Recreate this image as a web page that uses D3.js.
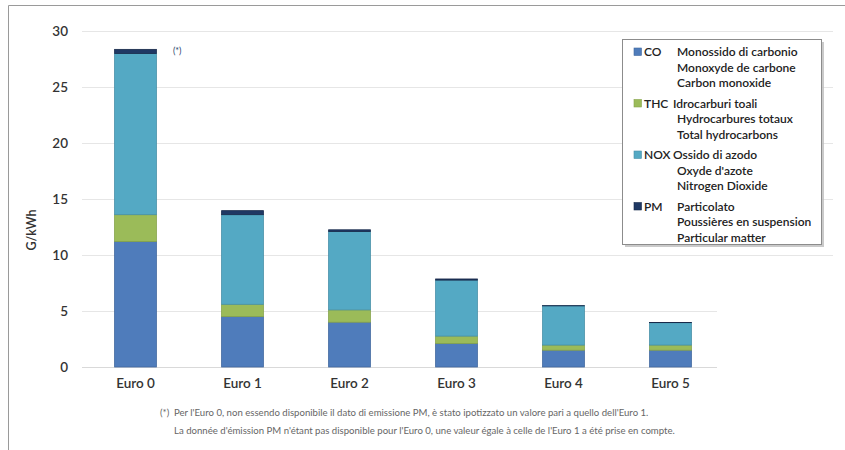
<!DOCTYPE html>
<html>
<head>
<meta charset="utf-8">
<script src="https://cdn.jsdelivr.net/npm/d3@7/dist/d3.min.js"></script>
<style>
  html, body { margin: 0; padding: 0; background: #fff; }
  svg { display: block; font-family: Lato, "Open Sans", sans-serif; }
</style>
</head>
<body>
<svg id="chart" width="845" height="450"></svg>
<script>
// Emission limits for heavy-duty engines, g/kWh
const categories = ["Euro 0", "Euro 1", "Euro 2", "Euro 3", "Euro 4", "Euro 5"];
const CO  = [11.2, 4.5, 4.0, 2.1, 1.5, 1.5];
const THC = [2.4, 1.1, 1.1, 0.66, 0.46, 0.46];
const NOX = [14.4, 8.0, 7.0, 5.0, 3.5, 2.0];
const PM  = [0.36, 0.36, 0.15, 0.10, 0.02, 0.02];
const yTicks = [0, 5, 10, 15, 20, 25, 30];

const seriesKeys = ["CO", "THC", "NOX", "PM"];
const seriesColors = { CO: "#4f7cbb", THC: "#9bbb59", NOX: "#54a9c4", PM: "#1f3864" };
const seriesStroke = { CO: "#41689f", THC: "#86a34a", NOX: "#4690a8", PM: "#17294a" };
const legendLines = {
  CO:  ["Monossido di carbonio", "Monoxyde de carbone", "Carbon monoxide"],
  THC: ["Idrocarburi toali", "Hydrocarbures totaux", "Total hydrocarbons"],
  NOX: ["Ossido di azodo", "Oxyde d'azote", "Nitrogen Dioxide"],
  PM:  ["Particolato", "Poussières en suspension", "Particular matter"]
};
const footnote = [
  "Per l'Euro 0, non essendo disponibile il dato di emissione PM, è stato ipotizzato un valore pari a quello dell'Euro 1.",
  "La donnée d'émission PM n'étant pas disponible pour l'Euro 0, une valeur égale à celle de l'Euro 1 a été prise en compte."
];

const table = categories.map((c, i) => ({ cat: c, CO: CO[i], THC: THC[i], NOX: NOX[i], PM: PM[i] }));

const svg = d3.select("#chart");

// outer frame (left and top edges)
svg.append("path")
  .attr("d", "M8.5,450 V5.5 H845")
  .attr("fill", "none").attr("stroke", "#9a9a9a").attr("stroke-width", 1);

const x = d3.scaleBand().domain(categories).range([82, 724]).paddingInner(0.6).paddingOuter(0.3);
const y = d3.scaleLinear().domain([0, 30]).range([367, 31]);

// gridlines
const grid = svg.append("g");
yTicks.forEach(t => {
  grid.append("line")
    .attr("x1", 82).attr("x2", t >= 10 ? 833 : 717)
    .attr("y1", Math.round(y(t)) + 0.5).attr("y2", Math.round(y(t)) + 0.5)
    .attr("stroke", t === 0 ? "#d9d9d9" : "#e6e6e6").attr("stroke-width", 1);
});

// y axis labels
const yAxis = d3.axisLeft(y).tickValues(yTicks).tickSize(0).tickPadding(0);
const gy = svg.append("g").attr("transform", "translate(68,0)").call(yAxis);
gy.select(".domain").remove();
gy.selectAll("text").attr("font-size", 13.5).attr("font-weight", 600).attr("fill", "#333")
  .attr("font-family", "Lato, sans-serif");

// x axis labels
const xAxis = d3.axisBottom(x).tickSize(0).tickPadding(0);
const gx = svg.append("g").attr("transform", "translate(0,378)").call(xAxis);
gx.select(".domain").remove();
gx.selectAll("text").attr("font-size", 13.5).attr("font-weight", 600).attr("fill", "#333")
  .attr("font-family", "Lato, sans-serif");

// y axis title
svg.append("text")
  .attr("transform", "translate(36,230) rotate(-90)")
  .attr("text-anchor", "middle")
  .attr("font-size", 12.5).attr("font-weight", 600).attr("fill", "#333")
  .text("G/kWh");

// stacked bars
const stack = d3.stack().keys(seriesKeys)(table);
const bars = svg.append("g");
stack.forEach(layer => {
  bars.append("g").selectAll("rect")
    .data(layer)
    .join("rect")
    .attr("x", d => x(d.data.cat) + 0.5)
    .attr("width", x.bandwidth() - 1)
    .attr("y", d => y(d[1]))
    .attr("height", d => y(d[0]) - y(d[1]))
    .attr("fill", seriesColors[layer.key])
    .attr("stroke", seriesStroke[layer.key])
    .attr("stroke-width", 0.8);
});

// asterisk marker next to the Euro 0 bar
svg.append("text")
  .attr("x", x("Euro 0") + x.bandwidth() + 16)
  .attr("y", y(CO[0] + THC[0] + NOX[0] + PM[0]) + 5)
  .attr("font-size", 9).attr("fill", "#2a3f6b")
  .text("(*)");

// legend
const lg = svg.append("g");
lg.append("rect").attr("x", 625).attr("y", 42).attr("width", 199).attr("height", 205)
  .attr("fill", "#bdbdbd").attr("opacity", 0.8);
lg.append("rect").attr("x", 622.5).attr("y", 39.5).attr("width", 199).attr("height", 205)
  .attr("fill", "#fff").attr("stroke", "#8c8c8c").attr("stroke-width", 1);

seriesKeys.forEach((k, i) => {
  const gy0 = 52 + i * 51.5;
  lg.append("rect").attr("x", 634).attr("y", gy0 - 4).attr("width", 7.5).attr("height", 7.5)
    .attr("fill", seriesColors[k]).attr("stroke", seriesStroke[k]).attr("stroke-width", 0.6);
  lg.append("text").attr("x", 644).attr("y", gy0 + 4)
    .attr("font-size", 12).attr("font-weight", 600).attr("fill", "#222").text(k);
  legendLines[k].forEach((t, j) => {
    lg.append("text").attr("x", j === 0 ? (k === "THC" || k === "NOX" ? 673 : 677) : 677)
      .attr("y", gy0 + 4 + j * 15.5)
      .attr("font-size", 12).attr("font-weight", 600).attr("fill", "#222").text(t);
  });
});

// footnote
const fn = svg.append("g").attr("font-size", 9.6).attr("fill", "#666");
fn.append("text").attr("x", 160).attr("y", 416).text("(*)");
fn.append("text").attr("x", 174).attr("y", 416).text(footnote[0]);
fn.append("text").attr("x", 174).attr("y", 434).text(footnote[1]);
</script>
</body>
</html>
